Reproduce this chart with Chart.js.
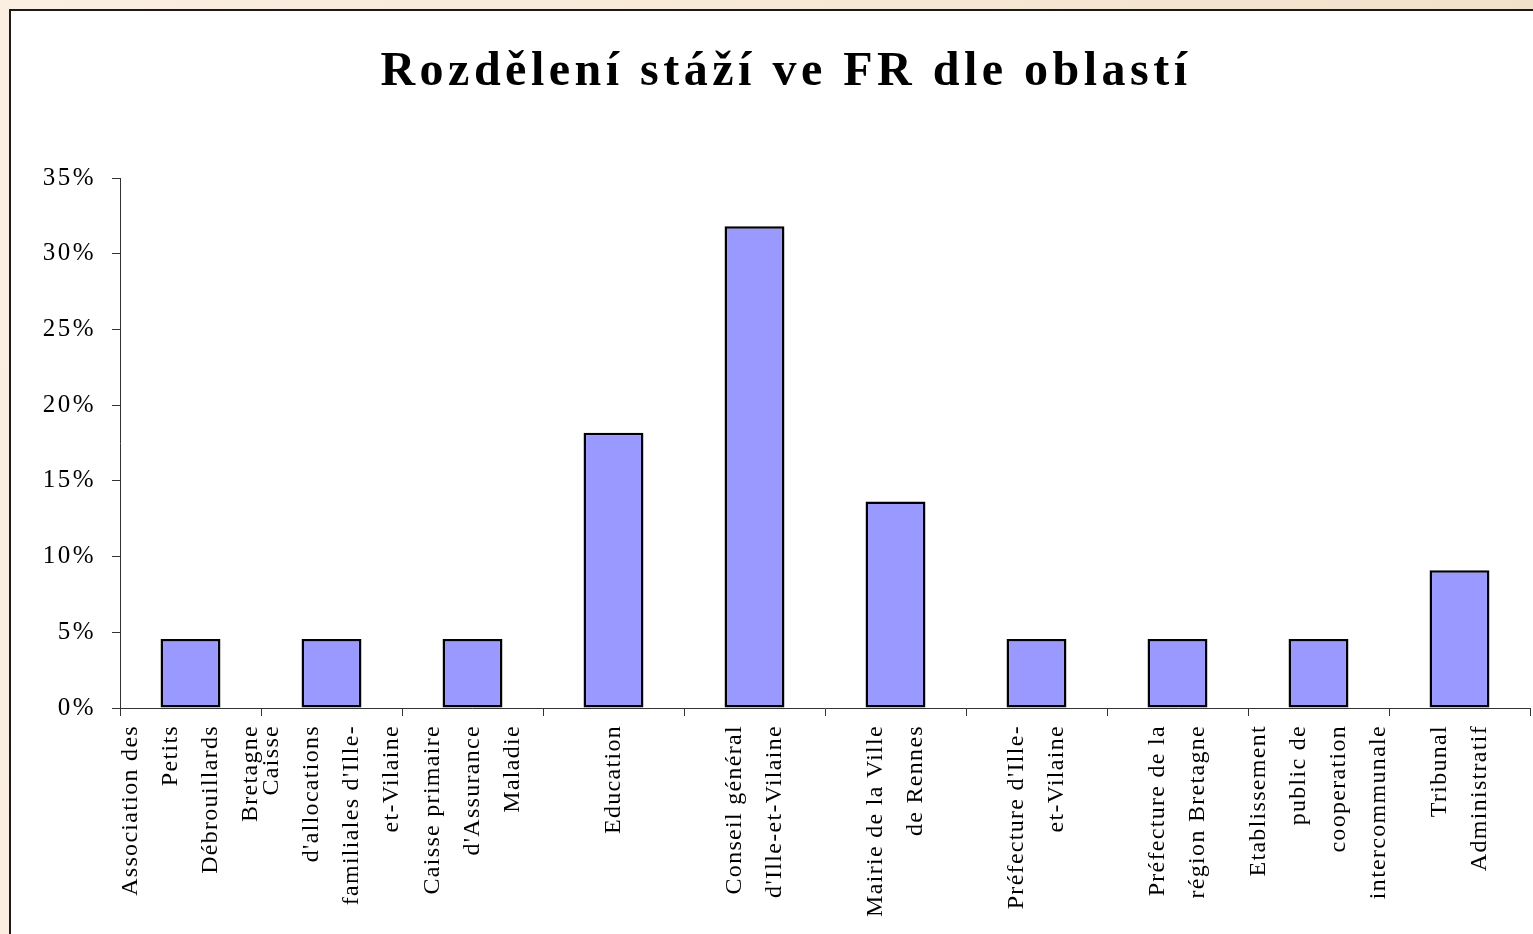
<!DOCTYPE html>
<html>
<head>
<meta charset="utf-8">
<script src="https://cdn.jsdelivr.net/npm/chart.js@4/dist/chart.umd.min.js"></script>
<style>
  html, body { margin: 0; padding: 0; width: 1533px; height: 934px; overflow: hidden; }
  body { background: linear-gradient(100deg, #fbefe2 0%, #f7e8d6 50%, #f0dfc7 100%); position: relative; }
  #panel { position: absolute; left: 9px; top: 9px; width: 1540px; height: 940px; background: #fff;
           border-left: 2px solid #1a1a1a; border-top: 2px solid #1a1a1a; }
  #c { position: absolute; left: 0; top: 0; }
</style>
</head>
<body>
<div id="panel"></div>
<canvas id="c" width="1533" height="934"></canvas>
<script>
const titleText = "Rozdělení stáží ve FR dle oblastí";
const categories = [
  ["Association des", "Petits", "Débrouillards", "Bretagne"],
  ["Caisse", "d'allocations", "familiales d'Ille-", "et-Vilaine"],
  ["Caisse primaire", "d'Assurance", "Maladie"],
  ["Education"],
  ["Conseil général", "d'Ille-et-Vilaine"],
  ["Mairie de la Ville", "de Rennes"],
  ["Préfecture d'Ille-", "et-Vilaine"],
  ["Préfecture de la", "région Bretagne"],
  ["Etablissement", "public de", "cooperation", "intercommunale"],
  ["Tribunal", "Administratif"]
];
const shares = [0.0455, 0.0455, 0.0455, 0.1818, 0.3182, 0.1364, 0.0455, 0.0455, 0.0455, 0.0909];
const yTicks = [0, 0.05, 0.10, 0.15, 0.20, 0.25, 0.30, 0.35];

const SERIF = '"Liberation Serif", "Times New Roman", serif';

const spacing = {
  id: 'spacing',
  beforeDraw(chart) { chart.ctx.letterSpacing = '2.5px'; },
  afterDraw(chart) { chart.ctx.letterSpacing = '0px'; }
};

const customText = {
  id: 'customText',
  afterDraw(chart) {
    const ctx = chart.ctx;
    const xs = chart.scales.x;
    // title
    ctx.save();
    ctx.font = 'bold 48px ' + SERIF;
    ctx.letterSpacing = '4.5px';
    ctx.fillStyle = '#000';
    ctx.textAlign = 'center';
    ctx.textBaseline = 'alphabetic';
    ctx.fillText(titleText, 786, 85);
    ctx.restore();
    // category labels
    ctx.save();
    ctx.font = '24px ' + SERIF;
    ctx.letterSpacing = '1.3px';
    ctx.fillStyle = '#000';
    ctx.textAlign = 'right';
    ctx.textBaseline = 'middle';
    const lh = 40;
    categories.forEach((lines, i) => {
      const cx = xs.getPixelForValue(i);
      const n = lines.length;
      lines.forEach((ln, j) => {
        const x = cx + (j - (n - 1) / 2) * lh;
        ctx.save();
        ctx.translate(x, 725);
        ctx.rotate(-Math.PI / 2);
        ctx.fillText(ln, 0, 0);
        ctx.restore();
      });
    });
    ctx.restore();
  }
};

new Chart(document.getElementById('c'), {
  type: 'bar',
  data: {
    labels: categories.map(c => c.join(' ')),
    datasets: [{
      data: shares,
      backgroundColor: '#9999ff',
      borderColor: '#000',
      borderWidth: 2.5,
      borderSkipped: false,
      barPercentage: 0.425,
      categoryPercentage: 1.0
    }]
  },
  options: {
    responsive: false,
    animation: false,
    layout: { padding: { top: 178, right: 3, left: 0, bottom: 0 } },
    plugins: {
      legend: { display: false },
      title: { display: false },
      tooltip: { enabled: false }
    },
    scales: {
      x: {
        offset: true,
        grid: { offset: true, drawOnChartArea: false, drawTicks: true, tickLength: 8, color: '#333', lineWidth: 1 },
        border: { color: '#333', width: 1 },
        ticks: { display: false },
        afterFit(s) { s.height = 226; }
      },
      y: {
        min: 0, max: 0.35,
        afterBuildTicks(s) { s.ticks = yTicks.map(v => ({ value: v })); },
        grid: { drawOnChartArea: false, drawTicks: true, tickLength: 8, color: '#333', lineWidth: 1 },
        border: { color: '#333', width: 1 },
        ticks: {
          padding: 16,
          color: '#000',
          font: { family: SERIF, size: 25 },
          callback: v => Math.round(v * 100) + '%'
        },
        afterFit(s) { s.width = 120; }
      }
    }
  },
  plugins: [spacing, customText]
});
</script>
</body>
</html>
